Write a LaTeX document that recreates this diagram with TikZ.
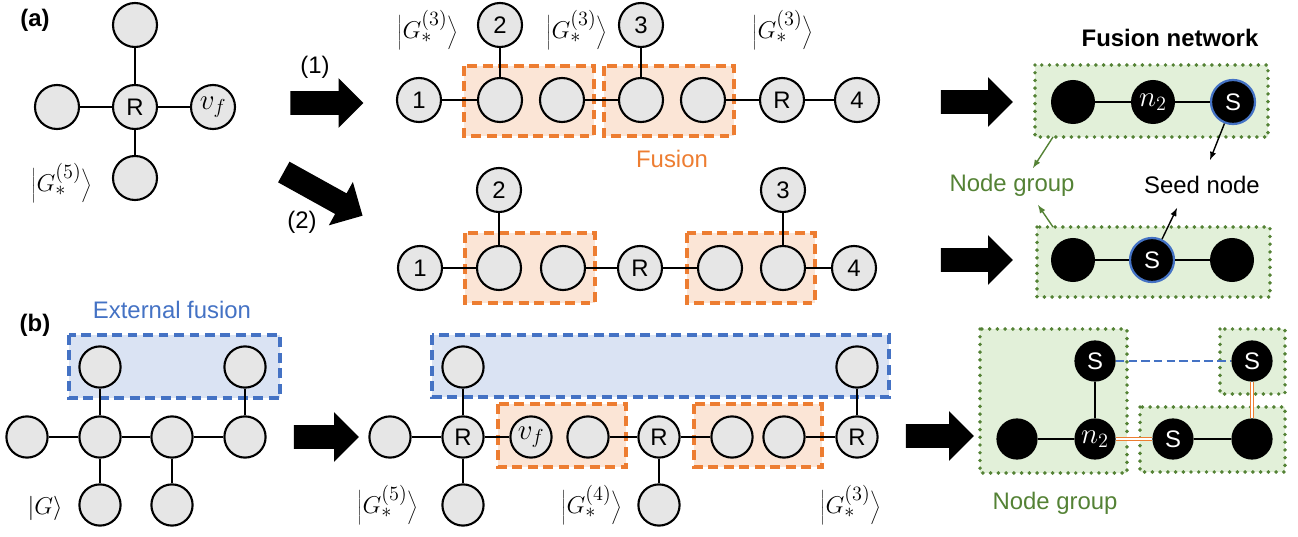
\documentclass[tikz,border=0pt]{standalone}
\usepackage[no-math]{fontspec}
\setmainfont{Liberation Sans}
\usetikzlibrary{shapes.arrows}

\definecolor{qgray}{HTML}{E6E6E6}
\definecolor{fuseorange}{HTML}{ED7D31}
\definecolor{fusefill}{HTML}{FBE5D6}
\definecolor{extblue}{HTML}{4472C4}
\definecolor{extfill}{HTML}{DAE3F3}
\definecolor{groupgreen}{HTML}{548235}
\definecolor{groupfill}{HTML}{E2F0D9}

\newcommand{\ketG}[1]{$\Biggl|G_*^{(#1)}\Biggr\rangle$}

\tikzset{
  qubit/.style={circle,draw,fill=qgray,line width=1.5pt,minimum size=1.1cm,inner sep=0pt},
  qsmall/.style={qubit,minimum size=1.03cm},
  dot/.style={circle,fill=black,text=white,minimum size=1.1cm,inner sep=0pt},
  dotsmall/.style={dot,minimum size=1.03cm},
  seed/.style={dot,draw=extblue,line width=1.6pt},
  mlabel/.style={font=\fontsize{20}{24}\selectfont},
  ketlabel/.style={font=\fontsize{19}{22}\selectfont,inner sep=1pt},
  link/.style={line width=1.4pt},
  fusebox/.style={fill=fusefill,draw=fuseorange,line width=2.6pt,dash pattern=on 7pt off 4pt},
  extbox/.style={fill=extfill,draw=extblue,line width=2.6pt,dash pattern=on 7pt off 4pt},
  groupbox/.style={fill=groupfill,draw=groupgreen,line width=2.8pt,line cap=round,dash pattern=on 0pt off 5.5pt},
  bigarrow/.style={single arrow,fill=black,draw=none,inner sep=0.2875cm,minimum width=1.225cm,
    single arrow head extend=0.325cm,single arrow tip angle=90},
}

\begin{document}
\begin{tikzpicture}[x=0.025cm,y=-0.025cm,font=\fontsize{17}{20}\selectfont]
  \useasboundingbox (0,0) rectangle (1298,537);

  % (a) star graph
  \node[font=\fontsize{17}{20}\selectfont\bfseries] (la) at (35,20) {(a)};
  \node[qubit] (s0) at (135,107) {R};
  \node[qubit] (s1) at (135,25) {};
  \node[qubit] (s2) at (57,107) {};
  \node[qubit,mlabel] (s3) at (213,107) {$v_f$};
  \node[qubit] (s4) at (135,178) {};
  \node[ketlabel] (ks) at (62,183) {\ketG{5}};
  \draw[link] (s0) -- (s1) (s0) -- (s2) (s0) -- (s3) (s0) -- (s4);

  \node[bigarrow,minimum height=1.825cm] (ar1) at (321,103) {};
  \node (l1) at (315,67) {(1)};
  \node[bigarrow,minimum height=2.25cm,rotate=-29] (ar2) at (318,191) {};
  \node (l2) at (302,222) {(2)};

  % route (1)
  \draw[fusebox] (464,66) rectangle (594,136);
  \draw[fusebox] (604,66) rectangle (734,136);
  \node[qubit] (p1) at (419,100) {1};
  \node[qubit] (p2) at (500,100) {};
  \node[qubit] (p3) at (562,100) {};
  \node[qubit] (p4) at (641,100) {};
  \node[qubit] (p5) at (703,100) {};
  \node[qubit] (p6) at (782,100) {R};
  \node[qubit] (p7) at (857,100) {4};
  \node[qubit] (p8) at (500,25) {2};
  \node[qubit] (p9) at (641,25) {3};
  \draw[link] (p1) -- (p2) (p3) -- (p4) (p5) -- (p6) (p6) -- (p7) (p8) -- (p2) (p9) -- (p4);
  \node[ketlabel] (kp1) at (428,30) {\ketG{3}};
  \node[ketlabel] (kp2) at (577,30) {\ketG{3}};
  \node[ketlabel] (kp3) at (783,30) {\ketG{3}};
  \node[text=fuseorange] (fu) at (672,159) {Fusion};

  % route (2)
  \draw[fusebox] (465,233) rectangle (595,303);
  \draw[fusebox] (687,233) rectangle (815,303);
  \node[qubit] (q1) at (420,268) {1};
  \node[qubit] (q2) at (499,268) {};
  \node[qubit] (q3) at (563,268) {};
  \node[qubit] (q4) at (640,268) {R};
  \node[qubit] (q5) at (720,268) {};
  \node[qubit] (q6) at (783,268) {};
  \node[qubit] (q7) at (854,268) {4};
  \node[qubit] (q8) at (499,190) {2};
  \node[qubit] (q9) at (783,190) {3};
  \draw[link] (q1) -- (q2) (q3) -- (q4) (q4) -- (q5) (q6) -- (q7) (q8) -- (q2) (q9) -- (q6);

  % fusion networks
  \node[font=\fontsize{17}{20}\selectfont\bfseries] (fn) at (1170,38) {Fusion network};
  \node[bigarrow,minimum height=1.8cm] (ar3) at (971,102) {};
  \node[bigarrow,minimum height=1.8cm] (ar4) at (971,260) {};
  \draw[groupbox] (1035,65) rectangle (1268,137);
  \draw[groupbox] (1037,227) rectangle (1270,297);
  \node[dot] (f1) at (1073,102) {};
  \node[dot,mlabel] (f2) at (1153,102) {$n_2$};
  \node[seed] (f3) at (1233,102) {S};
  \node[dot] (g1) at (1073,260) {};
  \node[seed] (g2) at (1152,260) {S};
  \node[dot] (g3) at (1232,260) {};
  \draw[link] (f1) -- (f2) -- (f3) (g1) -- (g2) -- (g3);
  \node[text=groupgreen] (ng) at (1012,185) {Node group};
  \node (sn) at (1202,185) {Seed node};
  \coordinate (gb1) at (1053,137);
  \coordinate (gt1) at (1033,168);
  \coordinate (gb2) at (1053,227);
  \coordinate (gt2) at (1038,205);
  \coordinate (st1) at (1210,160);
  \coordinate (st2) at (1177,208);
  \draw[groupgreen,line width=1pt,-latex] (gb1) -- (gt1);
  \draw[groupgreen,line width=1pt,-latex] (gb2) -- (gt2);
  \draw[line width=1pt,-latex] (f3) -- (st1);
  \draw[line width=1pt,-latex] (g2) -- (st2);

  % (b) external fusion
  \node[font=\fontsize{17}{20}\selectfont\bfseries] (lb) at (35,325) {(b)};
  \node[text=extblue] (ef) at (172,310) {External fusion};
  \draw[extbox] (69,335) rectangle (280,398);
  \node[qsmall] (b1) at (100,367) {};
  \node[qsmall] (b2) at (245,367) {};
  \node[qsmall] (b3) at (27,437) {};
  \node[qsmall] (b4) at (100,437) {};
  \node[qsmall] (b5) at (172,437) {};
  \node[qsmall] (b6) at (245,437) {};
  \node[qsmall] (b7) at (100,505) {};
  \node[qsmall] (b8) at (172,505) {};
  \draw[link] (b3) -- (b4) -- (b5) -- (b6) (b4) -- (b1) (b6) -- (b2) (b4) -- (b7) (b5) -- (b8);
  \node[ketlabel] (kg) at (45,508) {$|G\rangle$};

  \node[bigarrow,minimum height=1.625cm] (ar5) at (320.5,437) {};

  \draw[extbox] (432,335) rectangle (889,397);
  \draw[fusebox] (498,404) rectangle (626,467);
  \draw[fusebox] (694,404) rectangle (822,467);
  \node[qsmall] (m1) at (463,367) {};
  \node[qsmall] (m2) at (857,367) {};
  \node[qsmall] (m3) at (390,437) {};
  \node[qsmall] (m4) at (463,437) {R};
  \node[qsmall,mlabel] (m5) at (531,437) {$v_f$};
  \node[qsmall] (m6) at (588,437) {};
  \node[qsmall] (m7) at (659,437) {R};
  \node[qsmall] (m8) at (732,437) {};
  \node[qsmall] (m9) at (784,437) {};
  \node[qsmall] (m10) at (857,437) {R};
  \node[qsmall] (m11) at (463,505) {};
  \node[qsmall] (m12) at (659,505) {};
  \draw[link] (m3) -- (m4) -- (m5) (m6) -- (m7) -- (m8) (m9) -- (m10)
    (m4) -- (m1) (m4) -- (m11) (m7) -- (m12) (m10) -- (m2);
  \node[ketlabel] (km1) at (388,505) {\ketG{5}};
  \node[ketlabel] (km2) at (592,505) {\ketG{4}};
  \node[ketlabel] (km3) at (851,505) {\ketG{3}};

  \node[bigarrow,minimum height=1.7cm] (ar6) at (934,436) {};

  \draw[groupbox] (980,329) rectangle (1127,473);
  \draw[groupbox] (1220,329) rectangle (1285,394);
  \draw[groupbox] (1140,407) rectangle (1285,472);
  \node[dotsmall] (r1) at (1095,361) {S};
  \node[dotsmall] (r2) at (1017,439) {};
  \node[dotsmall,mlabel] (r3) at (1095,439) {$n_2$};
  \node[dotsmall] (r4) at (1173,439) {S};
  \node[dotsmall] (r5) at (1252,439) {};
  \node[dotsmall] (r6) at (1252,361) {S};
  \draw[link] (r1) -- (r3) -- (r2) (r4) -- (r5);
  \draw[extblue,line width=2pt,dash pattern=on 6pt off 3pt] (r1) -- (r6);
  \draw[fuseorange,line width=0.8pt,double=white,double distance=1.5pt] (r3) -- (r4);
  \draw[fuseorange,line width=0.8pt,double=white,double distance=1.5pt] (r6) -- (r5);
  \node[text=groupgreen] (ng2) at (1055,503) {Node group};
\end{tikzpicture}
\end{document}
